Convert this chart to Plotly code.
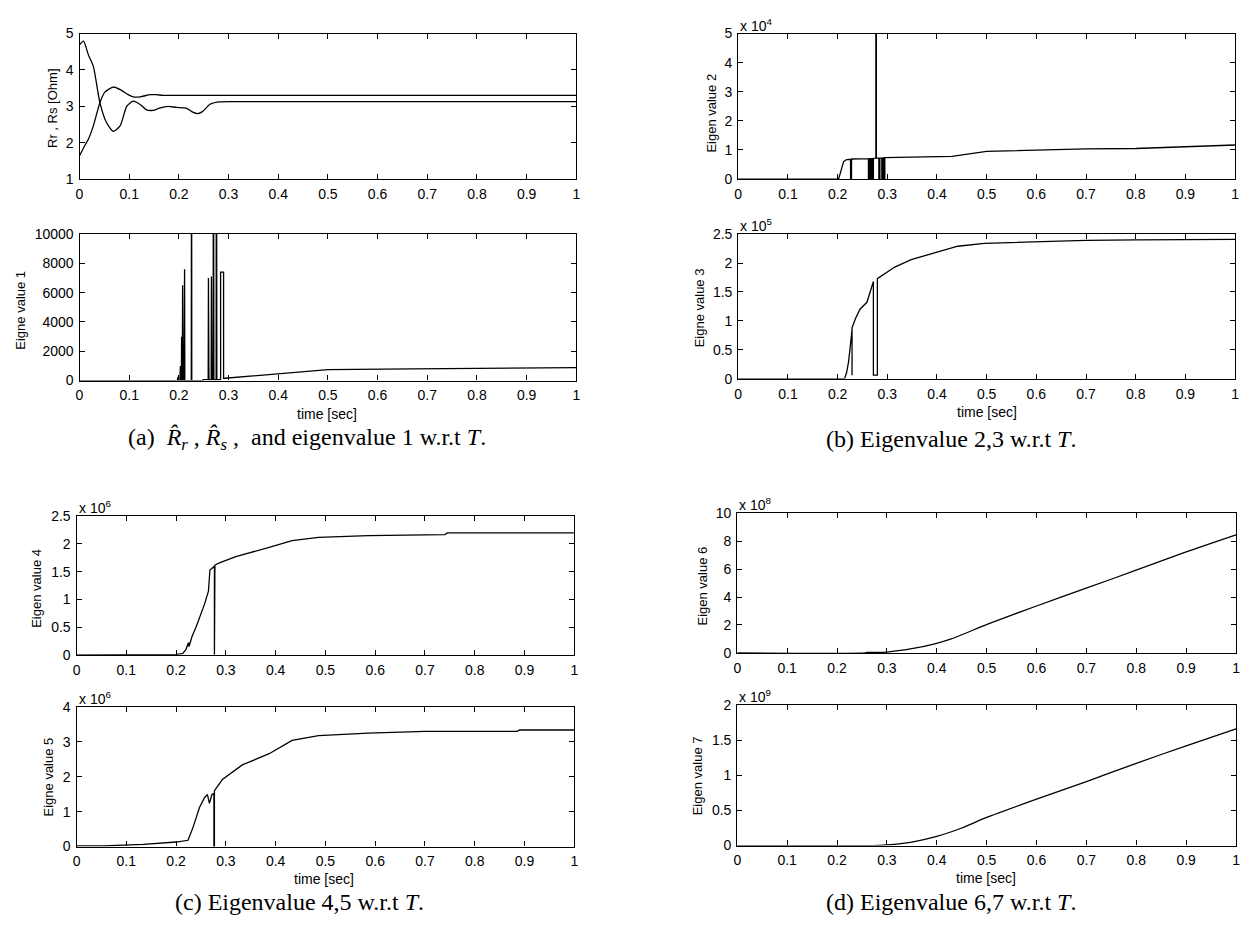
import plotly.graph_objects as go

# ---------------- data ----------------
# Estimated resistances [Ohm] over time [sec]
t_rr = [0, 0.008, 0.018, 0.028, 0.041, 0.054, 0.068, 0.082, 0.095, 0.108, 0.122,
        0.135, 0.148, 0.161, 0.178, 0.195, 0.215, 0.228, 0.238, 0.248, 0.262, 0.28,
        0.31, 0.5, 1.0]
rr_hat = [4.69, 4.79, 4.41, 4.09, 3.1, 2.56, 2.31, 2.47, 3.0, 3.14, 3.05,
          2.9, 2.89, 2.95, 3.0, 2.97, 2.95, 2.84, 2.8, 2.86, 3.05, 3.12,
          3.13, 3.13, 3.13]
t_rs = [0, 0.011, 0.018, 0.028, 0.041, 0.051, 0.068, 0.082, 0.098, 0.108, 0.122,
        0.142, 0.155, 0.168, 0.2, 0.5, 1.0]
rs_hat = [1.64, 1.93, 2.1, 2.47, 3.1, 3.39, 3.53, 3.46, 3.32, 3.26, 3.26,
          3.32, 3.32, 3.3, 3.3, 3.3, 3.3]

# Eigenvalue 1
t_e1 = [0, 0.197, 0.198, 0.199, 0.202, 0.203, 0.2035, 0.205, 0.2055, 0.206, 0.207,
        0.2075, 0.208, 0.210, 0.2105, 0.2115, 0.212, 0.225, 0.2255, 0.226, 0.248,
        0.249, 0.259, 0.2595, 0.2605, 0.265, 0.2655, 0.2665, 0.269, 0.2695, 0.2705,
        0.275, 0.2755, 0.2765, 0.284, 0.284, 0.290, 0.290, 0.293, 0.40, 0.50,
        0.67, 0.89, 1.0]
eig1 = [0, 0, 250, 0, 0, 1000, 0, 0, 3000, 0, 0,
        6500, 0, 0, 7600, 7600, 0, 0, 25000, 0, 0,
        60, 60, 7000, 60, 60, 7100, 60, 60, 25000, 60,
        60, 25000, 60, 60, 7400, 7400, 150, 160, 480, 750,
        800, 860, 880]

# Eigenvalue 2 (x 10^4)
t_e2 = [0, 0.202, 0.207, 0.212, 0.218, 0.226, 0.226, 0.228, 0.228, 0.262, 0.262,
        0.264, 0.264, 0.266, 0.266, 0.268, 0.268, 0.270, 0.270, 0.272, 0.272,
        0.277, 0.277, 0.278, 0.278, 0.283, 0.283, 0.285, 0.285, 0.289, 0.289,
        0.291, 0.291, 0.293, 0.293, 0.295, 0.295, 0.43, 0.50, 0.60, 0.70, 0.80,
        0.90, 1.0]
eig2_e4 = [0, 0, 0.3, 0.6, 0.67, 0.68, 0, 0, 0.69, 0.70, 0,
           0, 0.70, 0.70, 0, 0, 0.70, 0.70, 0, 0, 0.71,
           0.72, 6.0, 6.0, 0.72, 0.72, 0, 0, 0.72, 0.72, 0,
           0, 0.73, 0.73, 0, 0, 0.74, 0.78, 0.95, 0.99, 1.04, 1.05,
           1.10, 1.17]

# Eigenvalue 3 (x 10^5)
t_e3 = [0, 0.214, 0.218, 0.222, 0.226, 0.229, 0.229, 0.229, 0.236, 0.245, 0.259,
        0.272, 0.272, 0.280, 0.280, 0.295, 0.315, 0.348, 0.395, 0.442, 0.495,
        0.60, 0.70, 0.80, 0.90, 1.0]
eig3_e5 = [0, 0, 0.1, 0.29, 0.6, 0.85, 0.06, 0.88, 1.04, 1.2, 1.32,
           1.68, 0.06, 0.06, 1.73, 1.82, 1.93, 2.06, 2.17, 2.29, 2.34,
           2.37, 2.39, 2.40, 2.40, 2.41]

# Eigenvalue 4 (x 10^6)
t_e4 = [0, 0.147, 0.147, 0.200, 0.213, 0.220, 0.224, 0.225, 0.226, 0.232, 0.240,
        0.257, 0.265, 0.268, 0.277, 0.277, 0.278, 0.278, 0.287, 0.32, 0.387,
        0.433, 0.486, 0.586, 0.74, 0.745, 1.0]
eig4_e6 = [0, 0, 0.01, 0.01, 0.02, 0.10, 0.2, 0.22, 0.15, 0.33, 0.5,
           0.91, 1.15, 1.53, 1.6, 0, 0, 1.62, 1.66, 1.77, 1.94,
           2.06, 2.12, 2.15, 2.17, 2.2, 2.2]

# Eigenvalue 5 (x 10^6)
t_e5 = [0, 0.054, 0.134, 0.200, 0.224, 0.234, 0.247, 0.257, 0.263, 0.267, 0.272,
        0.276, 0.276, 0.277, 0.277, 0.293, 0.333, 0.387, 0.433, 0.486, 0.586,
        0.69, 0.70, 0.885, 0.89, 1.0]
eig5_e6 = [0.02, 0.02, 0.065, 0.13, 0.18, 0.55, 1.12, 1.4, 1.49, 1.24, 1.49,
           1.52, 0, 0, 1.6, 1.92, 2.34, 2.66, 3.04, 3.18, 3.25,
           3.28, 3.3, 3.3, 3.34, 3.34]

# Eigenvalue 6 (x 10^8)
t_e6 = [0, 0.258, 0.26, 0.30, 0.35, 0.396, 0.429, 0.502, 0.60, 0.701, 0.801, 0.90, 1.0]
eig6_e8 = [0, 0, 0.03, 0.06, 0.3, 0.65, 1.0, 2.06, 3.36, 4.65, 5.94, 7.23, 8.45]

# Eigenvalue 7 (x 10^9)
t_e7 = [0, 0.27, 0.30, 0.35, 0.40, 0.45, 0.50, 0.60, 0.70, 0.80, 0.90, 1.0]
eig7_e9 = [0, 0, 0.01, 0.05, 0.13, 0.25, 0.40, 0.66, 0.91, 1.17, 1.42, 1.66]

# Tick labels
x_ticks = [0, 0.1, 0.2, 0.3, 0.4, 0.5, 0.6, 0.7, 0.8, 0.9, 1]
x_tick_text = ["0", "0.1", "0.2", "0.3", "0.4", "0.5", "0.6", "0.7", "0.8", "0.9", "1"]
y_ticks_r = [1, 2, 3, 4, 5]
y_ticks_e1 = [0, 2000, 4000, 6000, 8000, 10000]
y_ticks_e2 = [0, 1, 2, 3, 4, 5]
y_ticks_e3 = [0, 0.5, 1, 1.5, 2, 2.5]
y_ticks_e4 = [0, 0.5, 1, 1.5, 2, 2.5]
y_ticks_e5 = [0, 1, 2, 3, 4]
y_ticks_e6 = [0, 2, 4, 6, 8, 10]
y_ticks_e7 = [0, 0.5, 1, 1.5, 2]

# ---------------- layout helpers ----------------
W, H = 1248, 945
SANS = "Liberation Sans, Arial, sans-serif"
SERIF = "Liberation Serif, Times New Roman, serif"


def px_x(a, b):
    return [a / W, b / W]


def px_y(top, bottom):
    return [1 - bottom / H, 1 - top / H]


# panel boxes in pixels: (left, right, top, bottom)
panels = [
    (76, 576, 26, 174),    # Rr, Rs
    (76, 576, 230, 379),   # eig 1
    (739, 1239, 26, 174),  # eig 2
    (739, 1239, 230, 377), # eig 3
    (73, 574, 517, 658),   # eig 4
    (73, 574, 711, 853),   # eig 5
    (738, 1240, 514, 656), # eig 6
    (738, 1240, 709, 852), # eig 7
]
y_ranges = [[1, 5], [0, 10000], [0, 5], [0, 2.5], [0, 2.5], [0, 4], [0, 10], [0, 2]]
y_tick_sets = [y_ticks_r, y_ticks_e1, y_ticks_e2, y_ticks_e3,
               y_ticks_e4, y_ticks_e5, y_ticks_e6, y_ticks_e7]

# (x, y, smooth) per panel; smooth curves have no vertical jumps
series = [
    [(t_rr, rr_hat, True), (t_rs, rs_hat, True)],
    [(t_e1, eig1, False)],
    [(t_e2, eig2_e4, False)],
    [(t_e3, eig3_e5, False)],
    [(t_e4, eig4_e6, False)],
    [(t_e5, eig5_e6, False)],
    [(t_e6, eig6_e8, True)],
    [(t_e7, eig7_e9, True)],
]

fig = go.Figure()

layout = dict(
    width=W, height=H, autosize=False,
    margin=dict(l=0, r=0, t=0, b=0),
    paper_bgcolor="white", plot_bgcolor="white",
    showlegend=False,
    font=dict(family=SANS, color="black", size=14),
)

for i, (box, yr, yt, lines) in enumerate(zip(panels, y_ranges, y_tick_sets, series)):
    n = "" if i == 0 else str(i + 1)
    xa, ya = "x" + n, "y" + n
    for tx, ty, smooth in lines:
        line = dict(color="black", width=1.3)
        if smooth:
            line.update(shape="spline", smoothing=0.6)
        fig.add_trace(go.Scatter(x=tx, y=ty, mode="lines", xaxis=xa, yaxis=ya,
                                 line=line, hoverinfo="skip"))
    left, right, top, bottom = box
    common = dict(ticks="inside", ticklen=5, tickwidth=1, tickcolor="black",
                  showline=True, linecolor="black", linewidth=1.2, mirror="ticks",
                  showgrid=False, zeroline=False,
                  tickfont=dict(family=SANS, size=14, color="black"))
    layout["xaxis" + n] = dict(domain=px_x(left, right), anchor=ya, range=[0, 1],
                               tickmode="array", tickvals=x_ticks, ticktext=x_tick_text,
                               ticklabelstandoff=2, **common)
    layout["yaxis" + n] = dict(domain=px_y(top, bottom), anchor=xa, range=yr,
                               tickmode="array", tickvals=yt,
                               ticktext=[("%g" % v) for v in yt],
                               ticklabelstandoff=2, **common)

fig.update_layout(**layout)

ann = []


def note(text, x, y, size=13, angle=0, family=SANS, xanchor="center"):
    ann.append(dict(text=text, x=x / W, y=1 - y / H, xref="paper", yref="paper",
                    showarrow=False, textangle=angle, xanchor=xanchor, yanchor="middle",
                    font=dict(family=family, size=size, color="black")))


# y-axis titles
note("Rr , Rs [Ohm]", 49, 102, angle=-90)
note("Eigne value 1", 17, 307, angle=-90)
note("Eigen value 2", 712, 107, angle=-90)
note("Eigne value 3", 700, 305, angle=-90)
note("Eigen value 4", 32, 590, angle=-90)
note("Eigne value 5", 45, 782, angle=-90)
note("Eigen value 6", 703, 588, angle=-90)
note("Eigen value 7", 698, 781, angle=-90)

# x-axis titles
note("time [sec]", 325, 413, size=14)
note("time [sec]", 989, 411, size=14)
note("time [sec]", 322, 886, size=14)
note("time [sec]", 988, 885, size=14)

# exponent labels
note("x 10<sup>4</sup>", 739, 17, size=14, xanchor="left")
note("x 10<sup>5</sup>", 739, 221, size=14, xanchor="left")
note("x 10<sup>6</sup>", 73, 508, size=14, xanchor="left")
note("x 10<sup>6</sup>", 73, 702, size=14, xanchor="left")
note("x 10<sup>8</sup>", 738, 505, size=14, xanchor="left")
note("x 10<sup>9</sup>", 738, 700, size=14, xanchor="left")

# sub-figure captions
note("(a)  <i>R\u0302</i><sub><i>r</i></sub> , <i>R\u0302</i><sub><i>s</i></sub> ,  and eigenvalue 1 w.r.t <i>T</i>.",
     305, 438, size=24, family=SERIF)
note("(b) Eigenvalue 2,3 w.r.t <i>T</i>.", 953, 438, size=24, family=SERIF)
note("(c) Eigenvalue 4,5 w.r.t <i>T</i>.", 297, 909, size=24, family=SERIF)
note("(d) Eigenvalue 6,7 w.r.t <i>T</i>.", 953, 909, size=24, family=SERIF)

fig.update_layout(annotations=ann)
fig.write_html("out.html")
